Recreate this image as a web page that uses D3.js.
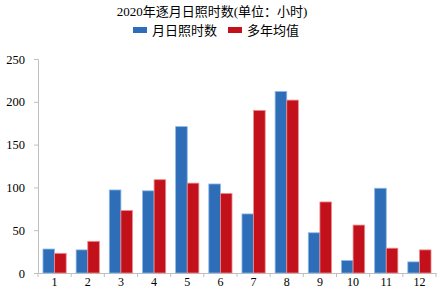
<!DOCTYPE html>
<html>
<head>
<meta charset="utf-8">
<script src="https://cdn.jsdelivr.net/npm/d3@7"></script>
<style>
  body { margin: 0; background: #fff; }
  text { font-family: "Liberation Serif", "Noto Sans CJK SC", serif; fill: #000; }
</style>
</head>
<body>
<svg id="chart" width="439" height="290"></svg>
<script>
(function(){
  var months = ['1','2','3','4','5','6','7','8','9','10','11','12'];
  var sunshine = [28, 27, 97, 96, 171, 104, 69, 212, 47, 14.5, 99, 13];
  var normals = [23, 37, 73, 109, 105, 93, 190, 202, 83, 56, 29, 27];
  var yTicks = [0, 50, 100, 150, 200, 250];
  var seriesNames = ['月日照时数', '多年均值'];
  var colors = ['#2e6db7', '#c3111c'];
  var strokes = ['#8db8e8', '#ec8e92'];

  var svg = d3.select('#chart');
  var left = 38, right = 436, top = 59, bottom = 273;

  var x = d3.scaleBand().domain(months).range([left, right]).paddingInner(0.3).paddingOuter(0.15);
  var xb = d3.scaleBand().domain(months).range([left, right]);
  var x1 = d3.scaleBand().domain([0, 1]).range([0, x.bandwidth()]);
  var y = d3.scaleLinear().domain([0, 250]).range([bottom, top]);

  // Title
  svg.append('text')
    .attr('x', 212).attr('y', 16)
    .attr('text-anchor', 'middle')
    .style('font-size', '13px')
    .text('2020年逐月日照时数(单位：小时)');

  // Legend
  var legend = svg.append('g');
  var lx = [133, 228];
  seriesNames.forEach(function(name, i) {
    legend.append('rect')
      .attr('x', lx[i]).attr('y', 27).attr('width', 14).attr('height', 6)
      .attr('fill', colors[i]);
    legend.append('text')
      .attr('x', lx[i] + 19).attr('y', 35)
      .style('font-size', '13px')
      .text(name);
  });

  // Y axis
  var yAxis = svg.append('g')
    .attr('transform', 'translate(' + left + ',0)')
    .call(d3.axisLeft(y).tickValues(yTicks).tickSize(4).tickPadding(9));
  yAxis.selectAll('line, path').attr('stroke', '#bfbfbf');
  yAxis.selectAll('text').style('font-size', '12.5px').style('font-family', '"Liberation Serif", serif');

  // X axis
  var xAxis = svg.append('g')
    .attr('transform', 'translate(0,' + bottom + ')')
    .call(d3.axisBottom(xb).tickSize(0).tickPadding(3));
  xAxis.select('path').attr('stroke', '#bfbfbf');
  xAxis.selectAll('text').style('font-size', '12px').style('font-family', '"Liberation Serif", serif')
    .attr('dy', '0.8em');
  xAxis.selectAll('.bound')
    .data(d3.range(months.length + 1))
    .enter().append('line')
    .attr('class', 'bound')
    .attr('x1', function(i) { return left + i * xb.step(); })
    .attr('x2', function(i) { return left + i * xb.step(); })
    .attr('y1', 0).attr('y2', 4)
    .attr('stroke', '#bfbfbf');

  // Bars
  var series = [sunshine, normals];
  series.forEach(function(vals, s) {
    svg.append('g').selectAll('rect')
      .data(vals)
      .enter().append('rect')
      .attr('x', function(d, i) { return x(months[i]) + x1(s); })
      .attr('y', function(d) { return y(d); })
      .attr('width', x1.bandwidth())
      .attr('height', function(d) { return bottom - y(d); })
      .attr('fill', colors[s])
      .attr('stroke', strokes[s])
      .attr('stroke-width', 0.8);
  });
})();
</script>
</body>
</html>
